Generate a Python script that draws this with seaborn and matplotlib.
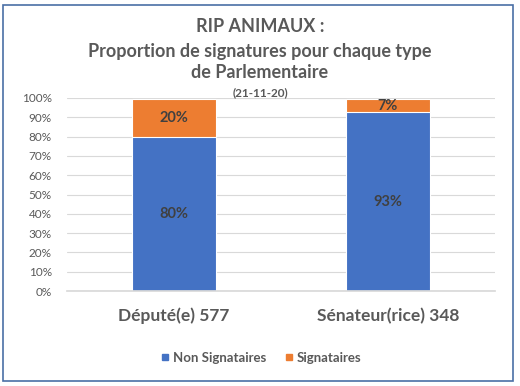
import matplotlib
matplotlib.use("Agg")
import matplotlib.pyplot as plt
import seaborn as sns
import pandas as pd
from matplotlib.patches import Rectangle
from matplotlib.lines import Line2D
from matplotlib.ticker import PercentFormatter

categories = ["Député(e) 577", "Sénateur(rice) 348"]
non_signataires = [79.6, 92.6]
signataires = [19.9, 6.9]
series_names = ["Non Signataires", "Signataires"]
yticks = [0, 10, 20, 30, 40, 50, 60, 70, 80, 90, 100]

sns.set_theme(style="white")
plt.rcParams["font.family"] = ["Lato", "DejaVu Sans"]

BLUE = "#4472C4"
ORANGE = "#ED7D31"
GRAY = "#595959"

fig = plt.figure(figsize=(5.2, 3.86), dpi=100)
ax = fig.add_axes([67/520, 1-291/386, 428/520, (291-98)/386])

df = pd.DataFrame({"cat": categories, "non": non_signataires, "sig": signataires})
df["total"] = df["non"] + df["sig"]

sns.barplot(data=df, x="cat", y="total", color=ORANGE, width=0.39, ax=ax,
            saturation=1)
sns.barplot(data=df, x="cat", y="non", color=BLUE, width=0.39, ax=ax,
            saturation=1)
if ax.get_legend() is not None:
    ax.get_legend().remove()

for p in ax.patches:
    p.set_edgecolor("white")
    p.set_linewidth(0.8)

for i, (n, s) in enumerate(zip(non_signataires, signataires)):
    ax.text(i, n / 2, f"{round(n):d}%", ha="center", va="center",
            fontsize=10.5, fontweight="bold", color="#404040")
    ax.text(i, n + s / 2, f"{round(s):d}%", ha="center", va="center",
            fontsize=10.5, fontweight="bold", color="#404040")

ax.set_ylim(0, 100)
ax.set_xlim(-0.5, 1.5)
ax.set_yticks(yticks)
ax.yaxis.set_major_formatter(PercentFormatter(decimals=0))
ax.grid(axis="y", color="#D9D9D9", linewidth=0.8)
ax.set_axisbelow(True)
for sp in ["top", "right", "left"]:
    ax.spines[sp].set_visible(False)
ax.spines["bottom"].set_color("#D9D9D9")
ax.tick_params(axis="y", labelsize=8.5, labelcolor=GRAY, length=0, pad=11)
ax.tick_params(axis="x", labelsize=12.5, labelcolor=GRAY, length=0, pad=12)
for t in ax.get_xticklabels():
    t.set_fontweight("bold")
ax.set_xlabel("")
ax.set_ylabel("")

fig.text(0.5, 1-26/386, "RIP ANIMAUX :", ha="center", va="center",
         fontsize=13, fontweight="bold", color=GRAY)
fig.text(0.5, 1-51/386, "Proportion de signatures pour chaque type", ha="center",
         va="center", fontsize=13, fontweight="bold", color=GRAY)
fig.text(0.5, 1-73/386, "de Parlementaire", ha="center", va="center",
         fontsize=13, fontweight="bold", color=GRAY)
fig.text(0.5, 1-93/386, "(21-11-20)", ha="center", va="center",
         fontsize=8.5, fontweight="bold", color=GRAY)

handles = [Line2D([], [], marker="s", linestyle="", color=BLUE, markersize=4.5),
           Line2D([], [], marker="s", linestyle="", color=ORANGE, markersize=4.5)]
leg = fig.legend(handles, series_names, loc="center", ncol=2,
                 bbox_to_anchor=(0.5, 1-358/386), frameon=False,
                 handletextpad=0.1, columnspacing=1.2, handlelength=1.0,
                 prop={"size": 9.5, "weight": "bold"})
for t in leg.get_texts():
    t.set_color(GRAY)

fig.patches.append(Rectangle((3/520, 1-381/386), 510/520, 376/386,
                             transform=fig.transFigure, fill=False,
                             edgecolor="#4A6FA5", linewidth=1.2))

fig.savefig("out.png", dpi=100)
